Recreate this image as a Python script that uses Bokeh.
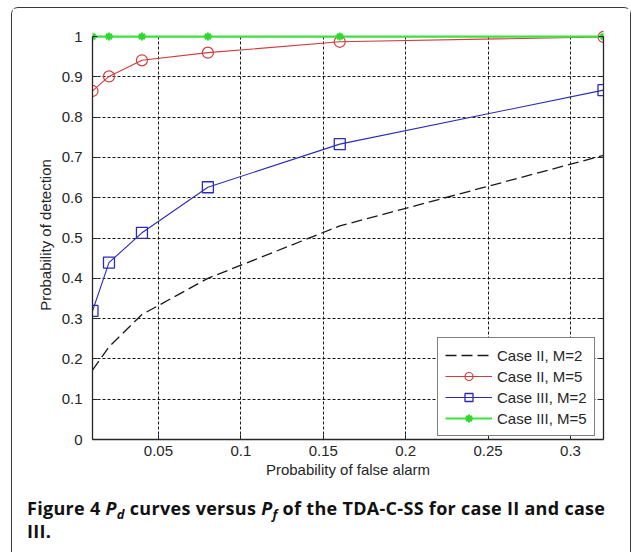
from bokeh.plotting import figure
from bokeh.models import LinearAxis, Range1d, Div, Legend, LegendItem, Grid
from bokeh.layouts import column
from bokeh.embed import file_html
from bokeh.resources import INLINE

# ---- data ----
pf = [0.01, 0.02, 0.04, 0.08, 0.16, 0.32]
pd_case2_m2 = [0.172, 0.23, 0.31, 0.40, 0.53, 0.705]
pd_case2_m5 = [0.865, 0.901, 0.941, 0.960, 0.987, 0.999]
pd_case3_m2 = [0.319, 0.439, 0.513, 0.626, 0.733, 0.867]
pd_case3_m5 = [1.0, 1.0, 1.0, 1.0, 1.0, 1.0]

x_ticks = [0.05, 0.1, 0.15, 0.2, 0.25, 0.3]
x_tick_labels = ["0.05", "0.1", "0.15", "0.2", "0.25", "0.3"]
y_ticks = [0, 0.1, 0.2, 0.3, 0.4, 0.5, 0.6, 0.7, 0.8, 0.9, 1.0]
y_tick_labels = ["0", "0.1", "0.2", "0.3", "0.4", "0.5", "0.6", "0.7", "0.8", "0.9", "1"]

series_labels = ["Case II, M=2", "Case II, M=5", "Case III, M=2", "Case III, M=5"]

X_MIN, X_MAX = 0.01, 0.32
Y_MIN, Y_MAX = 0.0, 1.0
Y_PAD = 0.015

FONT = "Liberation Sans"
AX = "#262626"

p = figure(frame_width=511, frame_height=409,
           x_range=Range1d(X_MIN, X_MAX), y_range=Range1d(Y_MIN, Y_MAX + Y_PAD),
           output_backend="svg", toolbar_location=None,
           min_border_left=80, min_border_right=27, min_border_top=22, min_border_bottom=45)
p.outline_line_color = None
p.background_fill_color = "white"
p.border_fill_color = "white"

# grids
p.xgrid.ticker = x_ticks
p.ygrid.ticker = y_ticks
for g in (p.xgrid, p.ygrid):
    g.grid_line_color = "black"
    g.grid_line_dash = "3 2"
    g.grid_line_width = 1
    g.grid_line_alpha = 0.9
if "cross_bounds" in Grid.properties():
    p.xgrid.cross_bounds = (Y_MIN, Y_MAX)

def style_axis(ax, ticks, labels):
    ax.ticker = ticks
    ax.major_label_overrides = {t: l for t, l in zip(ticks, labels)}
    ax.axis_line_color = AX
    ax.axis_line_width = 1.3
    ax.major_tick_line_color = AX
    ax.major_tick_in = 5
    ax.major_tick_out = 0
    ax.minor_tick_line_color = None
    ax.major_label_text_font = FONT
    ax.major_label_text_font_size = "15px"
    ax.major_label_text_color = AX
    ax.axis_label_text_font = FONT
    ax.axis_label_text_font_size = "15px"
    ax.axis_label_text_font_style = "normal"
    ax.axis_label_text_color = AX

style_axis(p.xaxis[0], x_ticks, x_tick_labels)
style_axis(p.yaxis[0], y_ticks, y_tick_labels)
p.xaxis[0].axis_label = "Probability of false alarm"
p.yaxis[0].axis_label = "Probability of detection"
p.xaxis[0].major_label_standoff = 6
p.xaxis[0].axis_label_standoff = 2
p.yaxis[0].major_label_standoff = 10
p.yaxis[0].axis_label_standoff = 5
p.yaxis[0].bounds = (Y_MIN, Y_MAX)

rax = LinearAxis()
style_axis(rax, y_ticks, y_tick_labels)
rax.major_label_text_color = None
rax.bounds = (Y_MIN, Y_MAX)
p.add_layout(rax, "right")

# series
r1 = p.line(pf, pd_case2_m2, line_color="#1a1a1a", line_width=1.3, line_dash="11 5")
r2l = p.line(pf, pd_case2_m5, line_color="#d23c3c", line_width=1.1)
r2m = p.scatter(pf, pd_case2_m5, marker="circle", size=11, fill_color=None,
                line_color="#d23c3c", line_width=1.2)
r3l = p.line(pf, pd_case3_m2, line_color="#2b2bb8", line_width=1.1)
r3m = p.scatter(pf, pd_case3_m2, marker="square", size=11, fill_color=None,
                line_color="#2b2bb8", line_width=1.3)
r4l = p.line(pf, pd_case3_m5, line_color="#3ee23e", line_width=2.2)
r4m = p.scatter(pf, pd_case3_m5, marker="asterisk", size=8,
                line_color="#2ed82e", line_width=2)

legend = Legend(items=[
    LegendItem(label=series_labels[0], renderers=[r1]),
    LegendItem(label=series_labels[1], renderers=[r2l, r2m]),
    LegendItem(label=series_labels[2], renderers=[r3l, r3m]),
    LegendItem(label=series_labels[3], renderers=[r4l, r4m]),
], location=(345, 3))
legend.border_line_color = "black"
legend.border_line_width = 1
legend.background_fill_color = "white"
legend.background_fill_alpha = 1
legend.label_text_font = FONT
legend.label_text_font_size = "15px"
legend.label_text_color = AX
legend.glyph_width = 47
legend.glyph_height = 20
legend.label_height = 20
legend.label_standoff = 5
legend.spacing = 1
legend.padding = 7
legend.margin = 0
p.add_layout(legend, "center")

caption_html = (
    '<div style="font-family:\'Open Sans\', sans-serif; font-weight:bold; font-size:18px; '
    'letter-spacing:0.3px; line-height:21px; color:#111; white-space:nowrap; margin:14px 0 0 15px;">'
    'Figure 4 <i>P<span style="font-size:0.72em; position:relative; top:0.3em;">d</span></i> '
    'curves versus <i>P<span style="font-size:0.72em; position:relative; top:0.3em;">f</span></i> '
    'of the TDA-C-SS for case II and case<br>III.</div>'
)
cap = Div(text=caption_html, width=618, height=68, margin=0, styles={"overflow": "hidden"})

page = column(p, cap, margin=(7, 0, 0, 11),
              styles={"border": "1px solid #3a3a3a", "border-bottom": "none",
                      "border-radius": "7px 7px 0 0"})

open("out.html", "w").write(file_html(page, INLINE))
